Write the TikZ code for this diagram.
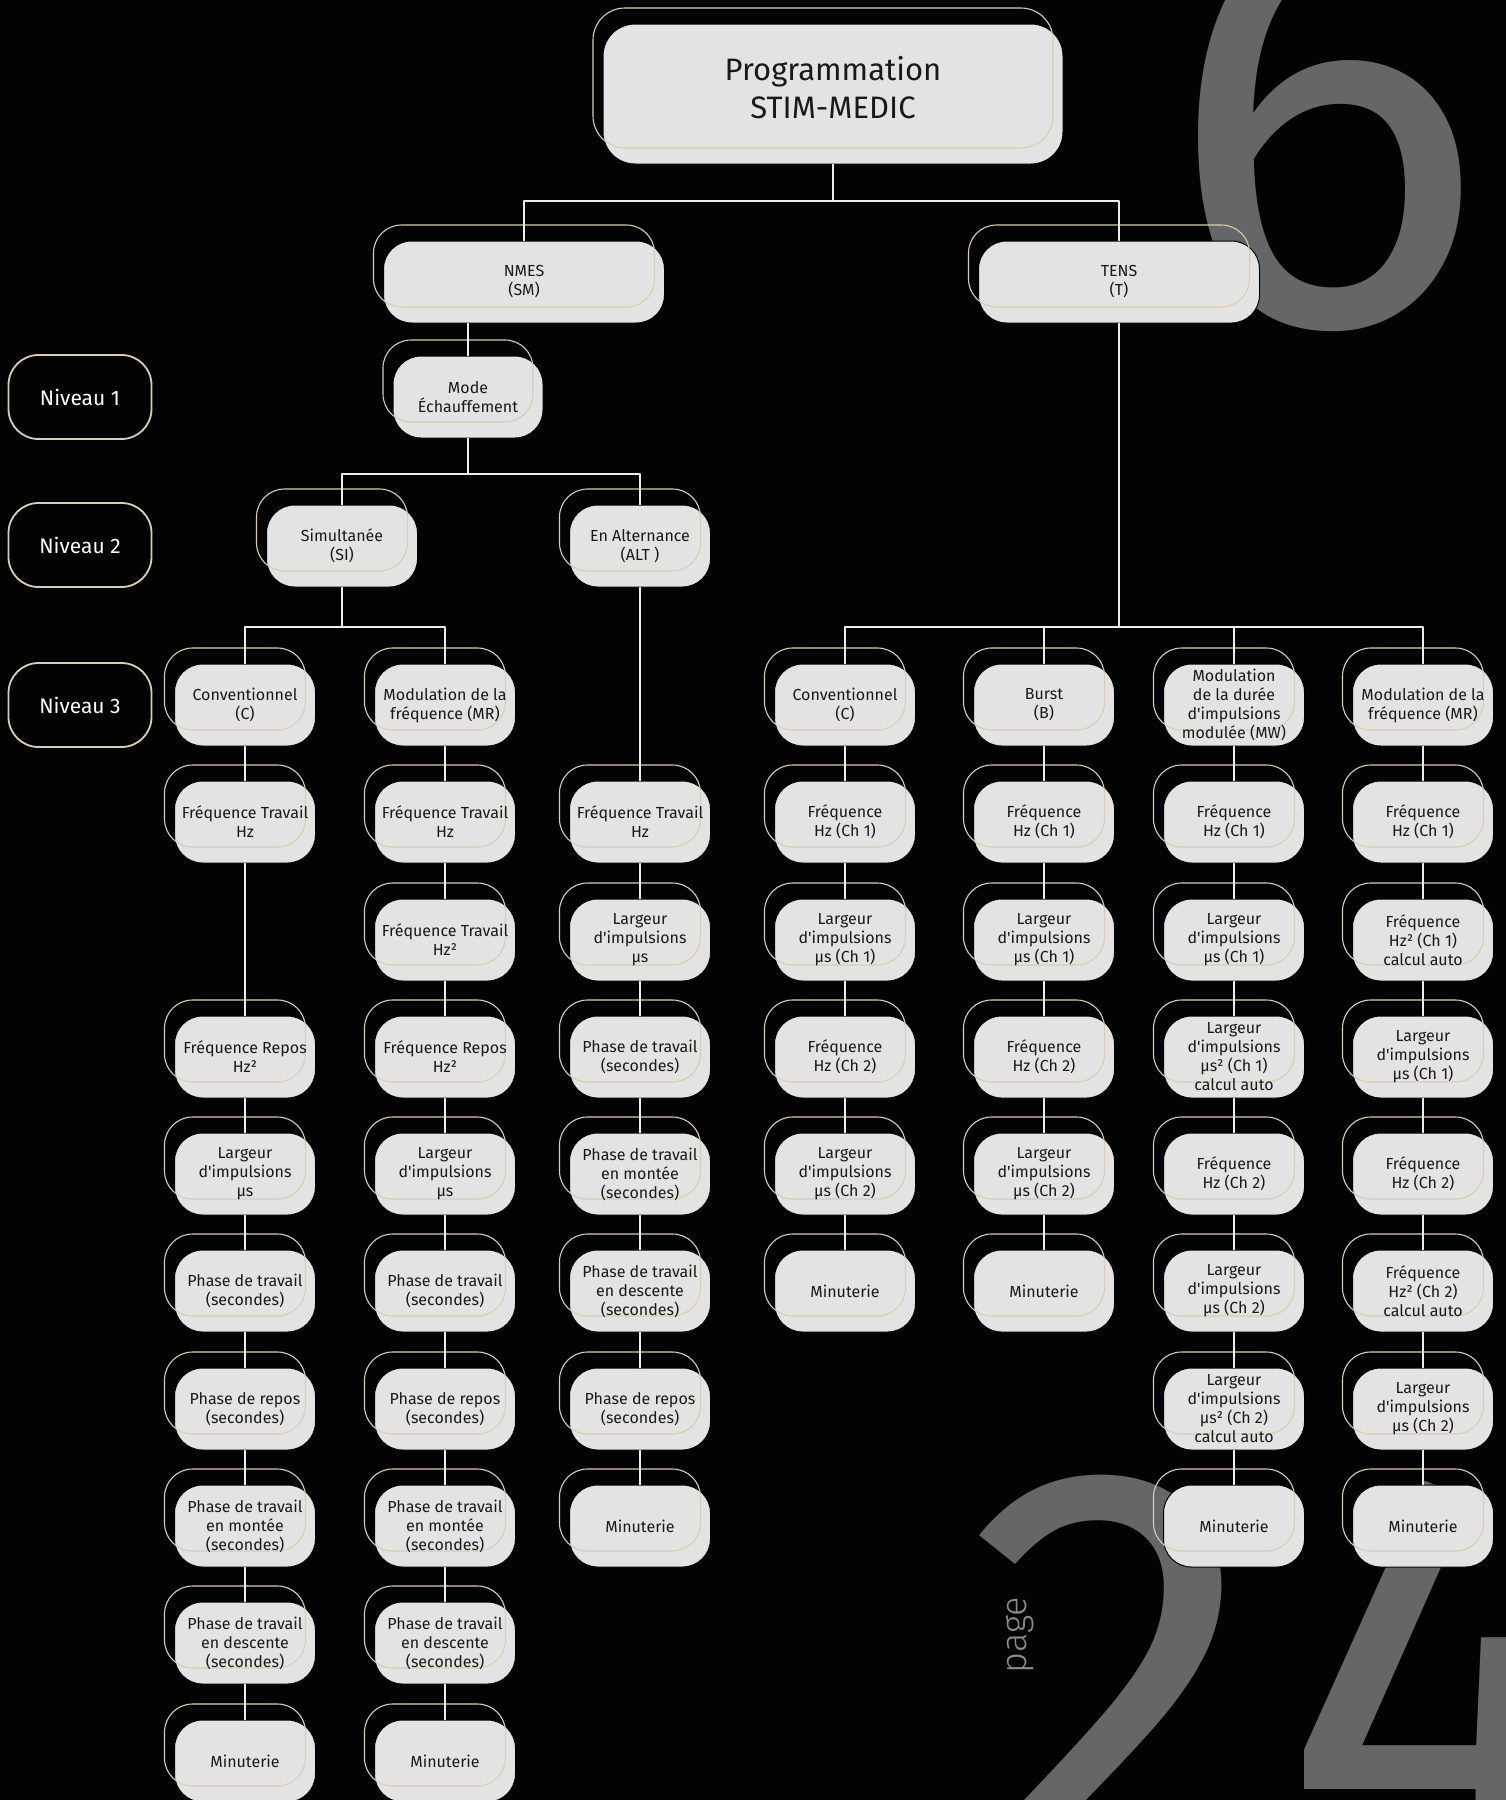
\documentclass[tikz,border=0pt]{standalone}
\usepackage{fontspec}
\setmainfont{Fira Sans}
\newfontfamily\thinfont{Fira Sans Light}
\usepackage{tikz}
\definecolor{bgblack}{HTML}{030303}
\definecolor{boxgray}{HTML}{E3E3E3}
\definecolor{rimcream}{HTML}{D9CDB2}
\definecolor{linkwhite}{HTML}{EDEDED}
\definecolor{digitgray}{HTML}{646667}
\definecolor{pagegray}{HTML}{8A8C8D}
\newcommand{\ap}{\textquotesingle}

\begin{document}
\begin{tikzpicture}[x=1pt,y=-1pt,line cap=round,line join=round,
  box/.style={draw=black,line width=1pt,fill=boxgray,rounded corners=28pt,
    minimum width=141pt,minimum height=82pt,inner sep=0pt,align=center,
    text=black!90,font=\fontsize{16}{19}\selectfont,
    postaction={draw=rimcream,line width=1.1pt,transform canvas={xshift=-10pt,yshift=16pt}}},
  lvl/.style={draw=rimcream,line width=1.8pt,fill=bgblack,rounded corners=30pt,
    minimum width=143pt,minimum height=84pt,inner sep=0pt,text=white,
    font=\fontsize{21}{24}\selectfont},
  link/.style={draw=linkwhite,line width=1.6pt}]
\useasboundingbox (0,0) rectangle (1506,1800);
\clip (0,0) rectangle (1506,1800);
\fill[bgblack] (0,0) rectangle (1506,1800);

% big page number
\node[inner sep=0pt,anchor=south,text=digitgray,font=\fontsize{600}{600}\selectfont] (six) at (1325,332) {6};
\node[inner sep=0pt,anchor=north,text=digitgray,font=\fontsize{600}{600}\selectfont] (two) at (1113,1475) {2};
\node[inner sep=0pt,anchor=north west,text=digitgray,font=\fontsize{600}{600}\selectfont] (four) at (1280,1481) {4};
\node[inner sep=0pt,rotate=90,text=pagegray,font=\thinfont\fontsize{36}{40}\selectfont] (pagelbl) at (1020,1635) {page};

\coordinate (bus0) at (0,201);
\coordinate (bus1) at (0,474);
\coordinate (bus2) at (0,627);

% levels
\node[lvl] (niv1) at (80,397) {Niveau 1};
\node[lvl] (niv2) at (80,545) {Niveau 2};
\node[lvl] (niv3) at (80,705) {Niveau 3};

% top of the tree
\node[box,minimum width=460pt,minimum height=140pt,rounded corners=32pt,text depth=14pt,font=\fontsize{31}{38}\selectfont] (prog) at (833,94) {Programmation\\STIM-MEDIC};
\node[box,minimum width=281pt] (nmes) at (524,282) {NMES\\(SM)};
\node[box,minimum width=281pt] (tens) at (1119,282) {TENS\\(T)};
\node[box,minimum width=150pt] (mode) at (468,397) {Mode\\Échauffement};
\node[box,minimum width=151pt] (simu) at (342,546) {Simultanée\\(SI)};
\node[box] (alt) at (640,546) {En Alternance\\(ALT )};

% SI conventionnel
\node[box] (sic0) at (245,705) {Conventionnel\\(C)};
\node[box] (sic1) at (245,822) {Fréquence Travail\\Hz};
\node[box] (sic3) at (245,1057) {Fréquence Repos\\Hz²};
\node[box] (sic4) at (245,1174) {Largeur\\d\ap impulsions\\µs};
\node[box] (sic5) at (245,1291) {Phase de travail\\(secondes)};
\node[box] (sic6) at (245,1409) {Phase de repos\\(secondes)};
\node[box] (sic7) at (245,1526) {Phase de travail\\en montée\\(secondes)};
\node[box] (sic8) at (245,1643) {Phase de travail\\en descente\\(secondes)};
\node[box] (sic9) at (245,1761) {Minuterie};

% SI modulation
\node[box] (simr0) at (445,705) {Modulation de la\\fréquence (MR)};
\node[box] (simr1) at (445,822) {Fréquence Travail\\Hz};
\node[box] (simr2) at (445,940) {Fréquence Travail\\Hz²};
\node[box] (simr3) at (445,1057) {Fréquence Repos\\Hz²};
\node[box] (simr4) at (445,1174) {Largeur\\d\ap impulsions\\µs};
\node[box] (simr5) at (445,1291) {Phase de travail\\(secondes)};
\node[box] (simr6) at (445,1409) {Phase de repos\\(secondes)};
\node[box] (simr7) at (445,1526) {Phase de travail\\en montée\\(secondes)};
\node[box] (simr8) at (445,1643) {Phase de travail\\en descente\\(secondes)};
\node[box] (simr9) at (445,1761) {Minuterie};

% alternance
\node[box] (alt1) at (640,822) {Fréquence Travail\\Hz};
\node[box] (alt2) at (640,940) {Largeur\\d\ap impulsions\\µs};
\node[box] (alt3) at (640,1057) {Phase de travail\\(secondes)};
\node[box] (alt4) at (640,1174) {Phase de travail\\en montée\\(secondes)};
\node[box] (alt5) at (640,1291) {Phase de travail\\en descente\\(secondes)};
\node[box] (alt6) at (640,1409) {Phase de repos\\(secondes)};
\node[box] (alt7) at (640,1526) {Minuterie};

% TENS conventionnel
\node[box] (tc0) at (845,705) {Conventionnel\\(C)};
\node[box] (tc1) at (845,822) {Fréquence\\Hz (Ch 1)};
\node[box] (tc2) at (845,940) {Largeur\\d\ap impulsions\\µs (Ch 1)};
\node[box] (tc3) at (845,1057) {Fréquence\\Hz (Ch 2)};
\node[box] (tc4) at (845,1174) {Largeur\\d\ap impulsions\\µs (Ch 2)};
\node[box] (tc5) at (845,1291) {Minuterie};

% TENS burst
\node[box] (tb0) at (1044,705) {Burst\\(B)};
\node[box] (tb1) at (1044,822) {Fréquence\\Hz (Ch 1)};
\node[box] (tb2) at (1044,940) {Largeur\\d\ap impulsions\\µs (Ch 1)};
\node[box] (tb3) at (1044,1057) {Fréquence\\Hz (Ch 2)};
\node[box] (tb4) at (1044,1174) {Largeur\\d\ap impulsions\\µs (Ch 2)};
\node[box] (tb5) at (1044,1291) {Minuterie};

% TENS MW
\node[box] (tmw0) at (1234,705) {Modulation\\de la durée\\d\ap impulsions\\modulée (MW)};
\node[box] (tmw1) at (1234,822) {Fréquence\\Hz (Ch 1)};
\node[box] (tmw2) at (1234,940) {Largeur\\d\ap impulsions\\µs (Ch 1)};
\node[box] (tmw3) at (1234,1057) {Largeur\\d\ap impulsions\\µs² (Ch 1)\\calcul auto};
\node[box] (tmw4) at (1234,1174) {Fréquence\\Hz (Ch 2)};
\node[box] (tmw5) at (1234,1291) {Largeur\\d\ap impulsions\\µs (Ch 2)};
\node[box] (tmw6) at (1234,1409) {Largeur\\d\ap impulsions\\µs² (Ch 2)\\calcul auto};
\node[box] (tmw7) at (1234,1526) {Minuterie};

% TENS MR
\node[box] (tmr0) at (1423,705) {Modulation de la\\fréquence (MR)};
\node[box] (tmr1) at (1423,822) {Fréquence\\Hz (Ch 1)};
\node[box] (tmr2) at (1423,940) {Fréquence\\Hz² (Ch 1)\\calcul auto};
\node[box] (tmr3) at (1423,1057) {Largeur\\d\ap impulsions\\µs (Ch 1)};
\node[box] (tmr4) at (1423,1174) {Fréquence\\Hz (Ch 2)};
\node[box] (tmr5) at (1423,1291) {Fréquence\\Hz² (Ch 2)\\calcul auto};
\node[box] (tmr6) at (1423,1409) {Largeur\\d\ap impulsions\\µs (Ch 2)};
\node[box] (tmr7) at (1423,1526) {Minuterie};

% connectors
\draw[link] (prog.south) -- (prog.south |- bus0);
\draw[link] (nmes.north) |- (tens.north |- bus0) -- (tens.north);
\draw[link] (mode.north |- nmes.south) -- (mode.north);
\draw[link] (mode.south) -- (mode.south |- bus1);
\draw[link] (simu.north) |- (alt.north |- bus1) -- (alt.north);
\draw[link] (simu.south) -- (simu.south |- bus2);
\draw[link] (sic0.north) |- (simr0.north |- bus2) -- (simr0.north);
\draw[link] (tens.south) -- (tens.south |- bus2);
\draw[link] (tc0.north) |- (tmr0.north |- bus2) -- (tmr0.north);
\draw[link] (tb0.north) -- (tb0.north |- bus2);
\draw[link] (tmw0.north) -- (tmw0.north |- bus2);
\draw[link] (alt.south) -- (alt1.north);

\draw[link] (sic0.south) -- (sic1.north);
\draw[link] (sic1.south) -- (sic3.north);
\draw[link] (sic3.south) -- (sic4.north);
\draw[link] (sic4.south) -- (sic5.north);
\draw[link] (sic5.south) -- (sic6.north);
\draw[link] (sic6.south) -- (sic7.north);
\draw[link] (sic7.south) -- (sic8.north);
\draw[link] (sic8.south) -- (sic9.north);

\draw[link] (simr0.south) -- (simr1.north);
\draw[link] (simr1.south) -- (simr2.north);
\draw[link] (simr2.south) -- (simr3.north);
\draw[link] (simr3.south) -- (simr4.north);
\draw[link] (simr4.south) -- (simr5.north);
\draw[link] (simr5.south) -- (simr6.north);
\draw[link] (simr6.south) -- (simr7.north);
\draw[link] (simr7.south) -- (simr8.north);
\draw[link] (simr8.south) -- (simr9.north);

\draw[link] (alt1.south) -- (alt2.north);
\draw[link] (alt2.south) -- (alt3.north);
\draw[link] (alt3.south) -- (alt4.north);
\draw[link] (alt4.south) -- (alt5.north);
\draw[link] (alt5.south) -- (alt6.north);
\draw[link] (alt6.south) -- (alt7.north);

\draw[link] (tc0.south) -- (tc1.north);
\draw[link] (tc1.south) -- (tc2.north);
\draw[link] (tc2.south) -- (tc3.north);
\draw[link] (tc3.south) -- (tc4.north);
\draw[link] (tc4.south) -- (tc5.north);

\draw[link] (tb0.south) -- (tb1.north);
\draw[link] (tb1.south) -- (tb2.north);
\draw[link] (tb2.south) -- (tb3.north);
\draw[link] (tb3.south) -- (tb4.north);
\draw[link] (tb4.south) -- (tb5.north);

\draw[link] (tmw0.south) -- (tmw1.north);
\draw[link] (tmw1.south) -- (tmw2.north);
\draw[link] (tmw2.south) -- (tmw3.north);
\draw[link] (tmw3.south) -- (tmw4.north);
\draw[link] (tmw4.south) -- (tmw5.north);
\draw[link] (tmw5.south) -- (tmw6.north);
\draw[link] (tmw6.south) -- (tmw7.north);

\draw[link] (tmr0.south) -- (tmr1.north);
\draw[link] (tmr1.south) -- (tmr2.north);
\draw[link] (tmr2.south) -- (tmr3.north);
\draw[link] (tmr3.south) -- (tmr4.north);
\draw[link] (tmr4.south) -- (tmr5.north);
\draw[link] (tmr5.south) -- (tmr6.north);
\draw[link] (tmr6.south) -- (tmr7.north);
\end{tikzpicture}
\end{document}
